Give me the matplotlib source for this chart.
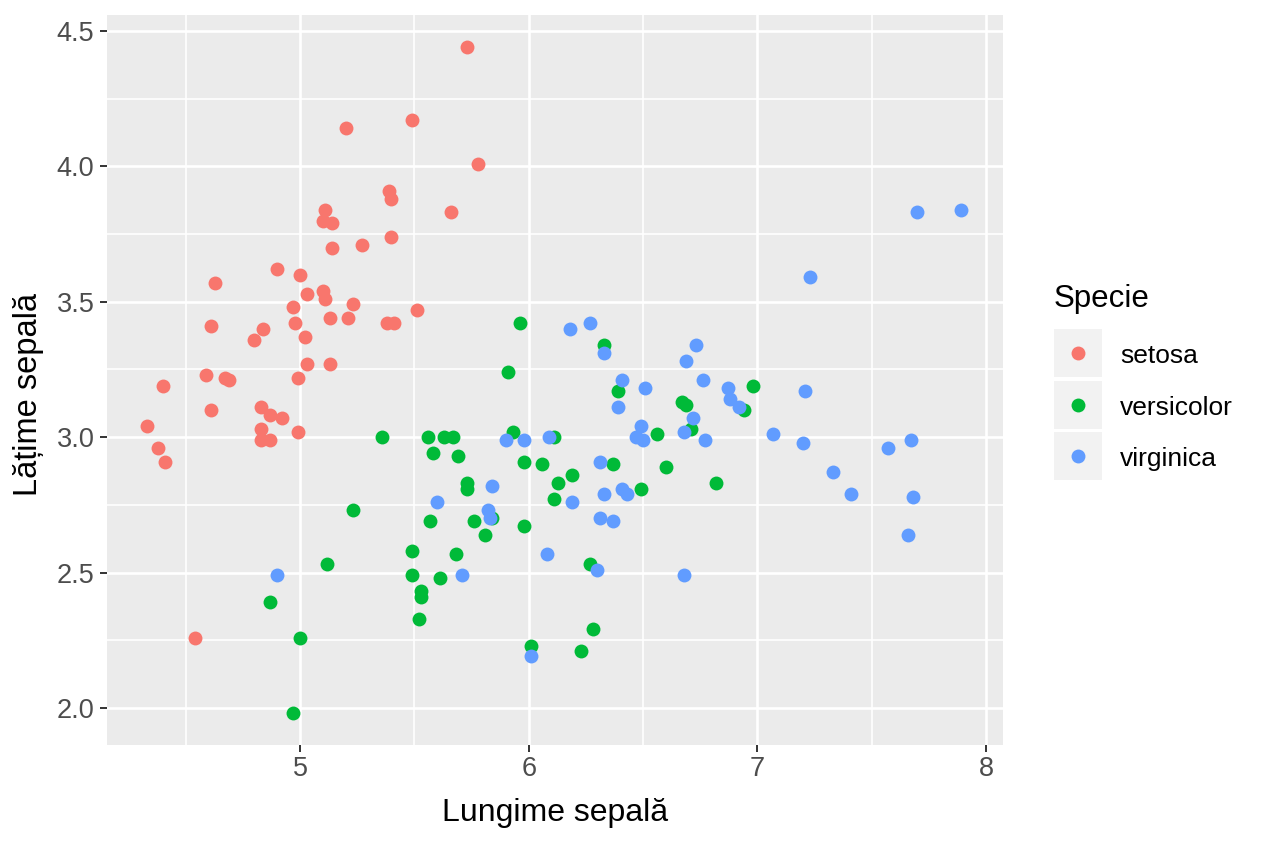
import matplotlib
matplotlib.use("Agg")
import matplotlib.pyplot as plt
from matplotlib.patches import Rectangle
from matplotlib.lines import Line2D
from matplotlib.ticker import MultipleLocator, FormatStrFormatter

plt.rcParams['font.family'] = ['Liberation Sans', 'DejaVu Sans']

species = ["setosa", "versicolor", "virginica"]
colors = ["#F8766D", "#00BA38", "#619CFF"]

setosa_x = [5.73, 5.49, 5.20, 5.78, 5.66, 5.39, 5.40, 5.11, 5.10, 5.14,
            5.40, 5.27, 5.14, 4.90, 5.00, 4.63, 5.03, 5.10, 5.11, 5.23,
            4.97, 5.51, 5.13, 5.21, 5.38, 5.41, 4.61, 4.98, 4.84, 5.02,
            4.80, 5.03, 5.13, 4.59, 4.67, 4.69, 4.99, 4.40, 4.83, 4.61,
            4.87, 4.92, 4.33, 4.83, 4.99, 4.83, 4.87, 4.38, 4.41, 4.54]
setosa_y = [4.44, 4.17, 4.14, 4.01, 3.83, 3.91, 3.88, 3.84, 3.80, 3.79,
            3.74, 3.71, 3.70, 3.62, 3.60, 3.57, 3.53, 3.54, 3.51, 3.49,
            3.48, 3.47, 3.44, 3.44, 3.42, 3.42, 3.41, 3.42, 3.40, 3.37,
            3.36, 3.27, 3.27, 3.23, 3.22, 3.21, 3.22, 3.19, 3.11, 3.10,
            3.08, 3.07, 3.04, 3.03, 3.02, 2.99, 2.99, 2.96, 2.91, 2.26]

versicolor_x = [5.96, 5.91, 5.36, 5.56, 5.63, 5.67, 5.93, 5.58, 5.69, 5.98,
                6.06, 5.73, 5.73, 5.23, 5.57, 5.76, 5.81, 5.84, 5.98, 5.49,
                5.68, 5.12, 5.49, 5.61, 5.53, 5.53, 4.87, 5.52, 5.00, 4.97,
                6.01, 6.23, 6.28, 6.27, 6.11, 6.19, 6.13, 6.11, 6.37, 6.49,
                6.60, 6.82, 6.33, 6.39, 6.67, 6.69, 6.56, 6.71, 6.98, 6.94]
versicolor_y = [3.42, 3.24, 3.00, 3.00, 3.00, 3.00, 3.02, 2.94, 2.93, 2.91,
                2.90, 2.83, 2.81, 2.73, 2.69, 2.69, 2.64, 2.70, 2.67, 2.58,
                2.57, 2.53, 2.49, 2.48, 2.43, 2.41, 2.39, 2.33, 2.26, 1.98,
                2.23, 2.21, 2.29, 2.53, 3.00, 2.86, 2.83, 2.77, 2.90, 2.81,
                2.89, 2.83, 3.34, 3.17, 3.13, 3.12, 3.01, 3.03, 3.19, 3.10]

virginica_x = [5.90, 5.98, 5.84, 5.60, 5.82, 5.83, 4.90, 5.71, 6.01, 6.08,
               6.09, 6.18, 6.27, 6.33, 6.31, 6.33, 6.41, 6.43, 6.19, 6.31,
               6.37, 6.30, 6.41, 6.39, 6.51, 6.49, 6.47, 6.50, 6.68, 6.77,
               6.73, 6.69, 6.76, 6.72, 6.68, 6.87, 6.88, 6.92, 7.21, 7.07,
               7.20, 7.23, 7.70, 7.89, 7.57, 7.67, 7.33, 7.41, 7.68, 7.66]
virginica_y = [2.99, 2.99, 2.82, 2.76, 2.73, 2.70, 2.49, 2.49, 2.19, 2.57,
               3.00, 3.40, 3.42, 3.31, 2.91, 2.79, 2.81, 2.79, 2.76, 2.70,
               2.69, 2.51, 3.21, 3.11, 3.18, 3.04, 3.00, 2.99, 3.02, 2.99,
               3.34, 3.28, 3.21, 3.07, 2.49, 3.18, 3.14, 3.11, 3.17, 3.01,
               2.98, 3.59, 3.83, 3.84, 2.96, 2.99, 2.87, 2.79, 2.78, 2.64]

series_x = [setosa_x, versicolor_x, virginica_x]
series_y = [setosa_y, versicolor_y, virginica_y]

W, H = 1264, 843
fig = plt.figure(figsize=(W / 100, H / 100), dpi=100)
fig.patch.set_facecolor("white")

# panel in pixel coords: left 107, right 1003, top 15, bottom 745
ax = fig.add_axes([107 / W, 1 - 745 / H, 896 / W, 730 / H])
ax.set_facecolor("#EBEBEB")
for sp in ax.spines.values():
    sp.set_visible(False)

for xs, ys, c in zip(series_x, series_y, colors):
    ax.scatter(xs, ys, s=100, color=c, linewidths=0, zorder=3)

ax.set_xlim(4.156, 8.074)
ax.set_ylim(1.863, 4.559)
ax.xaxis.set_major_locator(MultipleLocator(1))
ax.xaxis.set_minor_locator(MultipleLocator(0.5))
ax.yaxis.set_major_locator(MultipleLocator(0.5))
ax.yaxis.set_minor_locator(MultipleLocator(0.25))
ax.yaxis.set_major_formatter(FormatStrFormatter('%.1f'))
ax.xaxis.set_major_formatter(FormatStrFormatter('%d'))
ax.grid(which='major', color='white', lw=1.9)
ax.grid(which='minor', color='white', lw=1.2)
ax.set_axisbelow(True)
ax.tick_params(which='minor', length=0)
ax.tick_params(which='major', length=5, width=1.4, color='#333333',
               labelsize=19.5, labelcolor='#4D4D4D')
ax.tick_params(axis='x', pad=3)
ax.tick_params(axis='y', pad=4)

ax.set_xlabel("Lungime sepală", fontsize=23, color='black')
ax.xaxis.set_label_coords(0.5, -(813 - 745) / 730)
ax.xaxis.label.set_va('center')
ax.set_ylabel("Lățime sepală", fontsize=23.5, color='black')
ax.yaxis.set_label_coords((29 - 107) / 896, (745 - 394) / 730)
ax.yaxis.label.set_va('center')

# legend (ggplot style)
def fx(px):
    return px / W

def fy(py):
    return 1 - py / H

fig.text(fx(1054), fy(307), "Specie", fontsize=22.5, ha='left', va='baseline', color='black')
key_tops = [329, 381, 432]
for name, c, top in zip(species, colors, key_tops):
    fig.add_artist(Rectangle((fx(1054), fy(top + 48)), 48 / W, 48 / H,
                             transform=fig.transFigure, facecolor="#F2F2F2",
                             edgecolor='none'))
    cy = top + 24
    fig.add_artist(Line2D([fx(1078)], [fy(cy)], transform=fig.transFigure,
                          marker='o', ms=10, mew=0, color=c, ls=''))
    fig.text(fx(1120), fy(cy + 10), name, fontsize=19, ha='left', va='baseline', color='black')

fig.savefig("out.png", dpi=100)
